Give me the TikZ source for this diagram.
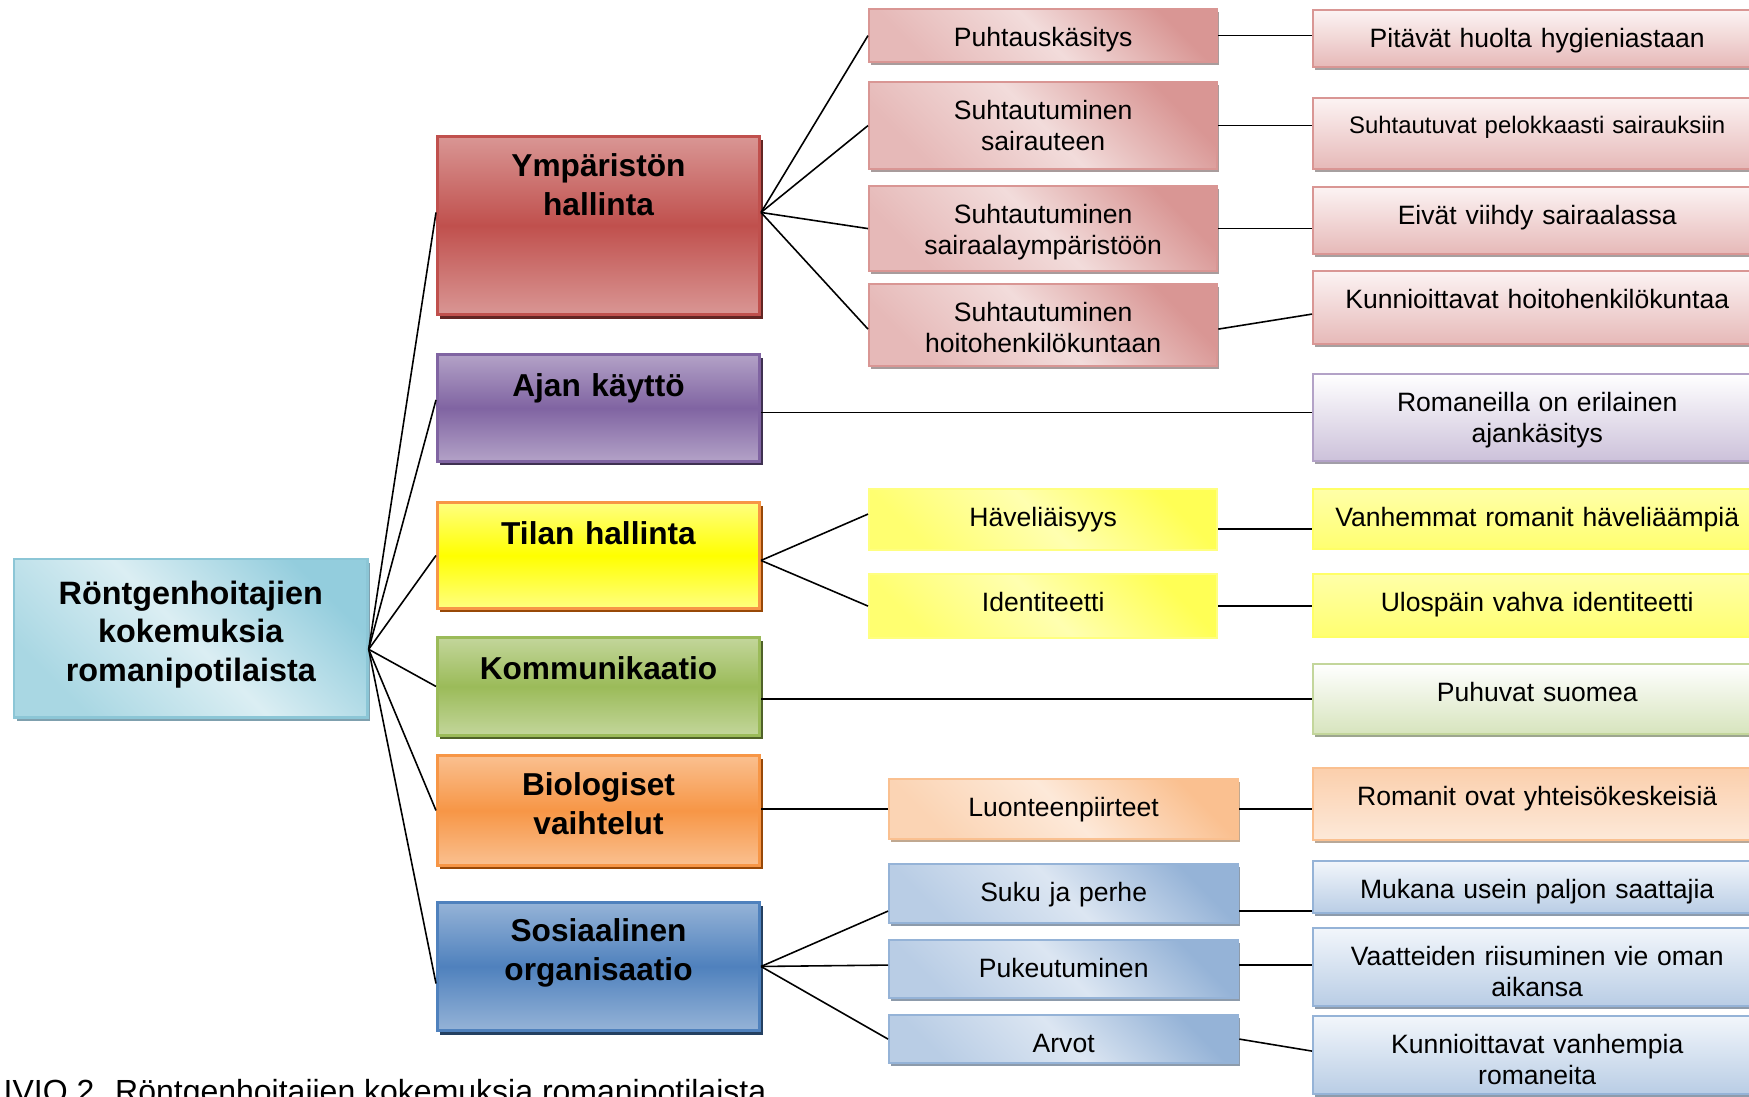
\documentclass[tikz,border=0pt]{standalone}
\usepackage{fontspec}
\setmainfont{Liberation Sans}
\usetikzlibrary{positioning,shadows}

\definecolor{rootT}{HTML}{93CDDD}
\definecolor{rootM}{HTML}{DBEEF3}
\definecolor{rootB}{HTML}{A9D7E3}
\definecolor{rootE}{HTML}{8CC6D6}
\definecolor{rootS}{HTML}{7FA0AE}

\definecolor{redCat}{HTML}{D99694}
\definecolor{redDark}{HTML}{C0504D}
\definecolor{redEdge}{HTML}{C0504D}
\definecolor{redShd}{HTML}{632523}
\definecolor{redSubT}{HTML}{D99694}
\definecolor{redSubM}{HTML}{F2DCDB}
\definecolor{redSubB}{HTML}{E6B9B8}
\definecolor{redSubE}{HTML}{D99694}
\definecolor{redSubS}{HTML}{A89C9C}
\definecolor{redFinT}{HTML}{FCF3F3}
\definecolor{redFinB}{HTML}{E6B9B8}
\definecolor{redFinE}{HTML}{D99694}
\definecolor{redFinS}{HTML}{A6A0A0}

\definecolor{purCat}{HTML}{B3A2C7}
\definecolor{purDark}{HTML}{8064A2}
\definecolor{purEdge}{HTML}{8064A2}
\definecolor{purShd}{HTML}{3F3151}
\definecolor{purFinT}{HTML}{FFFFFF}
\definecolor{purFinB}{HTML}{CCC1DA}
\definecolor{purFinE}{HTML}{B3A2C7}
\definecolor{purFinS}{HTML}{A29EA8}

\definecolor{yelCat}{HTML}{FFFF80}
\definecolor{yelDark}{HTML}{FFFF00}
\definecolor{yelEdge}{HTML}{F79646}
\definecolor{yelShd}{HTML}{984807}
\definecolor{yelSubT}{HTML}{FFFF55}
\definecolor{yelSubM}{HTML}{FFFFB0}
\definecolor{yelSubB}{HTML}{FFFF70}
\definecolor{yelSubE}{HTML}{FFFF80}
\definecolor{yelSubS}{HTML}{FFFFFF}
\definecolor{yelFinT}{HTML}{FFFFA8}
\definecolor{yelFinB}{HTML}{FFFF70}
\definecolor{yelFinE}{HTML}{FFFF66}
\definecolor{yelFinS}{HTML}{FFFFFF}

\definecolor{grnCat}{HTML}{C3D69B}
\definecolor{grnDark}{HTML}{9BBB59}
\definecolor{grnEdge}{HTML}{9BBB59}
\definecolor{grnShd}{HTML}{4F6228}
\definecolor{grnFinT}{HTML}{FFFFFF}
\definecolor{grnFinB}{HTML}{D7E4BD}
\definecolor{grnFinE}{HTML}{C3D69B}
\definecolor{grnFinS}{HTML}{9DA690}

\definecolor{orgCat}{HTML}{FAC090}
\definecolor{orgDark}{HTML}{F79646}
\definecolor{orgEdge}{HTML}{F79646}
\definecolor{orgShd}{HTML}{984807}
\definecolor{orgSubT}{HTML}{FAC090}
\definecolor{orgSubM}{HTML}{FDE9D9}
\definecolor{orgSubB}{HTML}{FBD4B4}
\definecolor{orgSubE}{HTML}{FAC090}
\definecolor{orgSubS}{HTML}{C0A890}
\definecolor{orgFinT}{HTML}{FBCFAC}
\definecolor{orgFinB}{HTML}{FDE9D9}
\definecolor{orgFinE}{HTML}{FAC090}
\definecolor{orgFinS}{HTML}{B8A898}

\definecolor{bluCat}{HTML}{95B3D7}
\definecolor{bluDark}{HTML}{4F81BD}
\definecolor{bluEdge}{HTML}{4F81BD}
\definecolor{bluShd}{HTML}{244061}
\definecolor{bluSubT}{HTML}{95B3D7}
\definecolor{bluSubM}{HTML}{DCE6F2}
\definecolor{bluSubB}{HTML}{B9CDE5}
\definecolor{bluSubE}{HTML}{95B3D7}
\definecolor{bluSubS}{HTML}{8D9BAB}
\definecolor{bluFinT}{HTML}{F2F6FB}
\definecolor{bluFinB}{HTML}{B9CDE5}
\definecolor{bluFinE}{HTML}{95B3D7}
\definecolor{bluFinS}{HTML}{8D9BAB}

\tikzstyle{box} = [anchor=north west, inner xsep=0pt, inner ysep=0pt, align=center]
\tikzstyle{topic} = [box, text width=3.53cm, text height=0.45cm, text depth=1.13cm, draw=rootE, line width=0.7pt, font=\fontsize{9.2}{10.95}\selectfont\bfseries, top color=rootT, bottom color=rootB, middle color=rootM, shading angle=-45, drop shadow={shadow xshift=0.03cm, shadow yshift=-0.04cm, fill=rootS, opacity=1}]
\tikzstyle{link} = [line width=0.45pt]
\tikzset{
  theme/.style={box, text width=3.22cm, text height=0.42cm, line width=0.8pt, font=\fontsize{9}{11.1}\selectfont\bfseries, draw=#1Edge, top color=#1Cat, bottom color=#1Cat, middle color=#1Dark, drop shadow={shadow xshift=0.03cm, shadow yshift=-0.04cm, fill=#1Shd, opacity=1}},
  sub/.style={box, text width=3.48cm, text height=0.37cm, line width=0.6pt, font=\fontsize{7.55}{8.8}\selectfont, draw=#1SubE, top color=#1SubT, bottom color=#1SubB, middle color=#1SubM, shading angle=-45, drop shadow={shadow xshift=0.02cm, shadow yshift=-0.03cm, fill=#1SubS, opacity=1}},
  finding/.style={box, text width=4.48cm, text height=0.37cm, line width=0.6pt, font=\fontsize{7.55}{8.8}\selectfont, draw=#1FinE, top color=#1FinT, bottom color=#1FinB, drop shadow={shadow xshift=0.02cm, shadow yshift=-0.03cm, fill=#1FinS, opacity=1}}
}

\begin{document}
\begin{tikzpicture}[x=0.01cm, y=-0.01cm]
		\useasboundingbox (0,0) rectangle (1749,1096);
		\clip (0,0) rectangle (1749,1096);
		
		\node (root) [topic] at (13,558) {Röntgenhoitajien\\kokemuksia\\romanipotilaista};
		
		\node (ymp) [theme=red, text height=0.40cm, text depth=1.38cm] at (436,135) {Ympäristön\\hallinta};
		\node (ajan) [theme=pur, text depth=0.65cm] at (436,353) {Ajan käyttö};
		\node (tilan) [theme=yel, text depth=0.64cm] at (436,501) {Tilan hallinta};
		\node (komm) [theme=grn, text depth=0.56cm] at (436,636) {Kommunikaatio};
		\node (bio) [theme=org, text height=0.40cm, text depth=0.70cm] at (436,754) {Biologiset\\vaihtelut};
		\node (sos) [theme=blu, text height=0.39cm, text depth=0.89cm] at (436,901) {Sosiaalinen\\organisaatio};
		
		\node (puh) [sub=red, text depth=0.16cm] at (868,8) {Puhtauskäsitys};
		\node (sair) [sub=red, text depth=0.50cm] at (868,81) {Suhtautuminen\\sairauteen};
		\node (sympa) [sub=red, text depth=0.48cm] at (868,185) {Suhtautuminen\\sairaalaympäristöön};
		\node (hoito) [sub=red, text depth=0.45cm] at (868,283) {Suhtautuminen\\hoitohenkilökuntaan};
		\node (hav) [sub=yel, text depth=0.24cm] at (868,488) {Häveliäisyys};
		\node (ide) [sub=yel, text depth=0.27cm] at (868,573) {Identiteetti};
		\node (luo) [sub=org, text width=3.49cm, text depth=0.23cm] at (888,778) {Luonteenpiirteet};
		\node (suku) [sub=blu, text width=3.49cm, text depth=0.22cm] at (888,863) {Suku ja perhe};
		\node (puk) [sub=blu, text width=3.49cm, text depth=0.21cm] at (888,939) {Pukeutuminen};
		\node (arv) [sub=blu, text width=3.49cm, text depth=0.11cm] at (888,1014) {Arvot};
		
		\node (pit) [finding=red, text depth=0.20cm] at (1312,9) {Pitävät huolta hygieniastaan};
		\node (pel) [finding=red, font=\fontsize{6.8}{8}\selectfont, text height=0.35cm, text depth=0.36cm] at (1312,97) {Suhtautuvat pelokkaasti sairauksiin};
		\node (eiv) [finding=red, text depth=0.30cm] at (1312,186) {Eivät viihdy sairaalassa};
		\node (kunh) [finding=red, text depth=0.36cm] at (1312,270) {Kunnioittavat hoitohenkilökuntaa};
		\node (rom) [finding=pur, text depth=0.50cm] at (1312,373) {Romaneilla on erilainen\\ajankäsitys};
		\node (van) [finding=yel, text depth=0.23cm] at (1312,488) {Vanhemmat romanit häveliäämpiä};
		\node (ulo) [finding=yel, text depth=0.26cm] at (1312,573) {Ulospäin vahva identiteetti};
		\node (puhs) [finding=grn, text depth=0.33cm] at (1312,663) {Puhuvat suomea};
		\node (romy) [finding=org, text depth=0.35cm] at (1312,767) {Romanit ovat yhteisökeskeisiä};
		\node (muk) [finding=blu, text depth=0.15cm] at (1312,860) {Mukana usein paljon saattajia};
		\node (vaa) [finding=blu, text depth=0.41cm] at (1312,927) {Vaatteiden riisuminen vie oman\\aikansa};
		\node (kuv) [finding=blu, text depth=0.41cm] at (1312,1015) {Kunnioittavat vanhempia\\romaneita};
		
		\node (caption) [anchor=base west, inner sep=0pt, font=\fontsize{9.1}{11}\selectfont] at (3,1102) {IVIO 2. Röntgenhoitajien kokemuksia romanipotilaista};
		
		\draw [link] ([yshift=-0.11cm]root.east) -- ([yshift=0.13cm]ymp.west);
		\draw [link] ([yshift=-0.11cm]root.east) -- ([yshift=0.08cm]ajan.west);
		\draw [link] ([yshift=-0.11cm]root.east) -- (tilan.west);
		\draw [link] ([yshift=-0.11cm]root.east) -- (komm.west);
		\draw [link] ([yshift=-0.11cm]root.east) -- (bio.west);
		\draw [link] ([yshift=-0.11cm]root.east) -- ([yshift=-0.17cm]sos.west);
		
		\draw [link] ([yshift=0.13cm]ymp.east) -- (puh.west);
		\draw [link] ([yshift=0.13cm]ymp.east) -- (sair.west);
		\draw [link] ([yshift=0.13cm]ymp.east) -- (sympa.west);
		\draw [link] ([yshift=0.13cm]ymp.east) -- ([yshift=-0.04cm]hoito.west);
		\draw [link] (puh.east) -- (puh.east -| pit.west);
		\draw [link] (sair.east) -- (sair.east -| pel.west);
		\draw [link] (sympa.east) -- (sympa.east -| eiv.west);
		\draw [link] ([yshift=-0.04cm]hoito.east) -- ([yshift=-0.065cm]kunh.west);
		
		\draw [link] ([yshift=0.05cm]rom.west -| ajan.east) -- ([yshift=0.05cm]rom.west);
		
		\draw [link] ([yshift=-0.05cm]tilan.east) -- ([yshift=0.055cm]hav.west);
		\draw [link] ([yshift=-0.05cm]tilan.east) -- (ide.west);
		\draw [link] ([yshift=-0.095cm]hav.east) -- ([yshift=-0.095cm]hav.east -| van.west);
		\draw [link] (ide.east) -- (ide.east -| ulo.west);
		
		\draw [link] (komm.east |- puhs.west) -- (puhs.west);
		
		\draw [link] (bio.east |- luo.west) -- (luo.west);
		\draw [link] (luo.east) -- (luo.east -| romy.west);
		
		\draw [link] (sos.east) -- ([yshift=-0.175cm]suku.west);
		\draw [link] (sos.east) -- ([yshift=0.04cm]puk.west);
		\draw [link] (sos.east) -- (arv.west);
		\draw [link] ([yshift=-0.175cm]suku.east) -- ([yshift=-0.175cm]suku.east -| muk.west);
		\draw [link] ([yshift=0.04cm]puk.east) -- ([yshift=0.04cm]puk.east -| vaa.west);
		\draw [link] (arv.east) -- ([yshift=0.04cm]kuv.west);
		
	\end{tikzpicture}
\end{document}
